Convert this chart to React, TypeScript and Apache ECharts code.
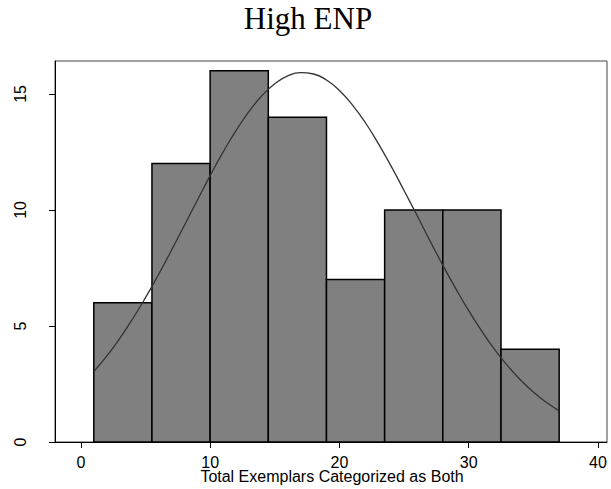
import React, { useEffect, useRef } from "react";
import * as echarts from "echarts";

// Histogram bins (left edge, right edge) and their frequencies
const binLeft = [1, 5.5, 10, 14.5, 19, 23.5, 28, 32.5];
const binRight = [5.5, 10, 14.5, 19, 23.5, 28, 32.5, 37];
const counts = [6, 12, 16, 14, 7, 10, 10, 4];

// Fitted normal density curve (scaled to frequency)
const curveX = [
  1, 2, 3, 4, 5, 6, 7, 8, 9, 10, 11, 12, 13, 14, 15, 16, 17, 18, 19,
  20, 21, 22, 23, 24, 25, 26, 27, 28, 29, 30, 31, 32, 33, 34, 35, 36, 37,
];
const curveY = [
  3.04, 3.7, 4.46, 5.3, 6.22, 7.21, 8.25, 9.33, 10.41, 11.48, 12.49, 13.42,
  14.24, 14.92, 15.44, 15.78, 15.92, 15.86, 15.6, 15.15, 14.53, 13.77, 12.87,
  11.89, 10.84, 9.77, 8.68, 7.62, 6.61, 5.66, 4.79, 3.99, 3.29, 2.68, 2.15,
  1.71, 1.34,
];

const xTicks = [0, 10, 20, 30, 40];
const yTicks = [0, 5, 10, 15];

const title = "High ENP";
const xTitle = "Total Exemplars Categorized as Both";

export default function App() {
  const ref = useRef<HTMLDivElement>(null);

  useEffect(() => {
    if (!ref.current) return;
    const chart = echarts.init(ref.current, null, { renderer: "svg" });

    const bars = binLeft.map((l, i) => [l, binRight[i], counts[i]]);
    const curve = curveX.map((x, i) => [x, curveY[i]]);
    const sans = "Liberation Sans, Arial, Helvetica, sans-serif";

    chart.setOption({
      animation: false,
      backgroundColor: "#ffffff",
      graphic: [
        {
          type: "text",
          x: 308,
          y: 18,
          style: {
            text: title,
            fill: "#000",
            font: "31px 'Liberation Serif', 'Times New Roman', serif",
            textAlign: "center",
            textVerticalAlign: "middle",
          },
        },
        {
          type: "text",
          x: 332,
          y: 476,
          style: {
            text: xTitle,
            fill: "#000",
            font: `16px ${sans}`,
            lineHeight: 14,
            textAlign: "center",
            textVerticalAlign: "middle",
          },
        },
      ],
      grid: {
        left: 55,
        right: 4,
        top: 61,
        bottom: 47,
        containLabel: false,
        outerBoundsMode: "none",
        show: true,
        borderColor: "#444",
        borderWidth: 1,
        backgroundColor: "transparent",
      },
      xAxis: {
        type: "value",
        min: -2,
        max: 40.7,
        axisLine: { show: true, onZero: false, lineStyle: { color: "#000", width: 1 } },
        axisTick: {
          show: true,
          length: 6,
          customValues: xTicks,
          lineStyle: { color: "#000" },
        },
        axisLabel: {
          customValues: xTicks,
          margin: 13,
          lineHeight: 14,
          fontFamily: sans,
          fontSize: 16,
          color: "#000",
        },
        splitLine: { show: false },
      },
      yAxis: {
        type: "value",
        min: 0,
        max: 16.42,
        axisLine: { show: true, onZero: false, lineStyle: { color: "#000", width: 1 } },
        axisTick: {
          show: true,
          length: 6,
          customValues: yTicks,
          lineStyle: { color: "#000" },
        },
        axisLabel: {
          customValues: yTicks,
          rotate: 90,
          margin: 27,
          fontFamily: sans,
          fontSize: 16,
          color: "#000",
        },
        splitLine: { show: false },
      },
      series: [
        {
          type: "custom",
          data: bars,
          encode: { x: [0, 1], y: 2 },
          renderItem: (params: any, api: any) => {
            const topLeft = api.coord([api.value(0), api.value(2)]);
            const bottomRight = api.coord([api.value(1), 0]);
            return {
              type: "rect",
              shape: {
                x: topLeft[0],
                y: topLeft[1],
                width: bottomRight[0] - topLeft[0],
                height: bottomRight[1] - topLeft[1],
              },
              style: { fill: "#808080", stroke: "#000", lineWidth: 1.5 },
            };
          },
          z: 2,
        },
        {
          type: "line",
          data: curve,
          smooth: true,
          showSymbol: false,
          symbol: "none",
          lineStyle: { color: "#333", width: 1.3 },
          z: 3,
        },
      ],
    });

    return () => chart.dispose();
  }, []);

  return (
    <div
      ref={ref}
      style={{ position: "absolute", left: 0, top: 0, width: 611, height: 489 }}
    />
  );
}
